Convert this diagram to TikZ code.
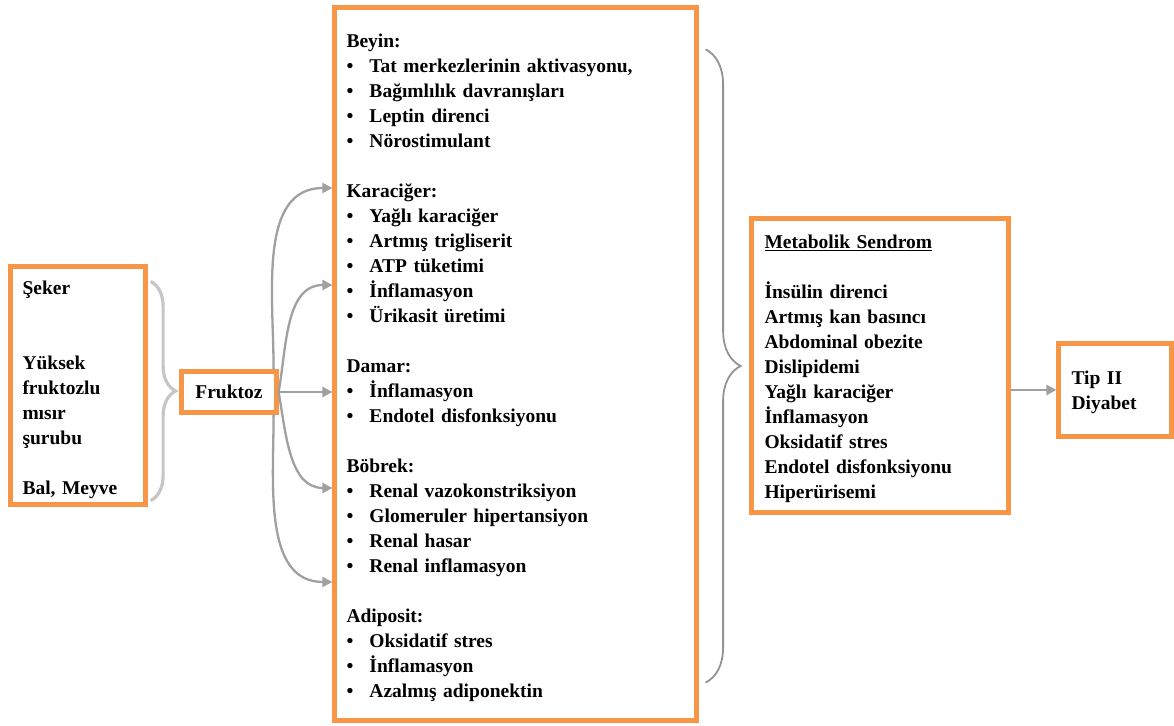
\documentclass[tikz,border=0pt]{standalone}
\usepackage{fontspec}
\setmainfont{Liberation Serif}
\usepackage{xcolor}
\usetikzlibrary{arrows.meta,positioning,calc,decorations.pathreplacing}

\definecolor{boxorange}{HTML}{F79646}
\definecolor{arrgray}{HTML}{A0A0A0}
\newcommand{\itm}{\makebox[23pt][l]{\textbullet}}
\newcommand{\tp}{\rule{0pt}{22pt}}

\begin{document}
\begin{tikzpicture}[
  x=1pt, y=1pt,
  box/.style={draw=boxorange, line width=4.2pt, fill=white, align=left,
    font=\bfseries\fontsize{19.5}{25}\selectfont, inner ysep=4pt},
  arr/.style={-{Triangle[length=10pt,width=10pt]}, line width=2.3pt, color=arrgray},
  curly/.style={decorate, decoration={brace, amplitude=#1}},
]
\useasboundingbox (0,0) rectangle (1174,725);

% Sources
\node[box, text width=111pt, inner xsep=12pt, minimum height=238pt] (src) at (78,339.5)
  {\tp Şeker\\[50pt]Yüksek\\fruktozlu\\mısır\\şurubu\\[25pt]Bal, Meyve};

% Fructose
\node[box, minimum width=95pt, minimum height=41pt, inner sep=0pt] (fruktoz) at (229,333) {Fruktoz};

% Organ effects
\node[box, text width=338pt, inner xsep=12pt, minimum height=713pt] (organ) at (515.5,361)
  {\tp Beyin:\\
   \itm Tat merkezlerinin aktivasyonu,\\
   \itm Bağımlılık davranışları\\
   \itm Leptin direnci\\
   \itm Nörostimulant\\[25pt]
   Karaciğer:\\
   \itm Yağlı karaciğer\\
   \itm Artmış trigliserit\\
   \itm ATP tüketimi\\
   \itm İnflamasyon\\
   \itm Ürikasit üretimi\\[25pt]
   Damar:\\
   \itm İnflamasyon\\
   \itm Endotel disfonksiyonu\\[25pt]
   Böbrek:\\
   \itm Renal vazokonstriksiyon\\
   \itm Glomeruler hipertansiyon\\
   \itm Renal hasar\\
   \itm Renal inflamasyon\\[25pt]
   Adiposit:\\
   \itm Oksidatif stres\\
   \itm İnflamasyon\\
   \itm Azalmış adiponektin};

% Metabolic syndrome
\node[box, text width=231pt, inner xsep=13pt, minimum height=294pt] (metsyn) at (880,359.5)
  {\rule{0pt}{20pt}\underline{Metabolik Sendrom}\\[25pt]
   İnsülin direnci\\
   Artmış kan basıncı\\
   Abdominal obezite\\
   Dislipidemi\\
   Yağlı karaciğer\\
   İnflamasyon\\
   Oksidatif stres\\
   Endotel disfonksiyonu\\
   Hiperürisemi};

% Outcome
\node[box, text width=87pt, inner xsep=13pt, minimum height=93pt] (diyabet) at (1115,335)
  {\rule{0pt}{18pt}Tip II\\Diyabet};

% Braces
\draw[curly=25pt, line width=3.2pt, color=gray!45]
  ([xshift=3pt,yshift=-17pt]src.north east) -- ([xshift=3pt,yshift=6pt]src.south east);
\draw[curly=35pt, line width=1.8pt, color=gray!85]
  ([xshift=7pt,yshift=-44pt]organ.north east) -- ([xshift=7pt,yshift=40pt]organ.south east);

% Arrows
\draw[arr] ([xshift=-5pt]fruktoz.north east) to[out=90,in=180] ([yshift=176pt]organ.west);
\draw[arr] (fruktoz.east) to[out=80,in=180] ([yshift=79pt]organ.west);
\draw[arr] (fruktoz.east) -- (fruktoz.east -| organ.west);
\draw[arr] (fruktoz.east) to[out=-80,in=180] ([yshift=-124pt]organ.west);
\draw[arr] ([xshift=-5pt]fruktoz.south east) to[out=-90,in=180] ([yshift=-218pt]organ.west);
\draw[arr] (diyabet.west -| metsyn.east) -- (diyabet.west);
\end{tikzpicture}
\end{document}
